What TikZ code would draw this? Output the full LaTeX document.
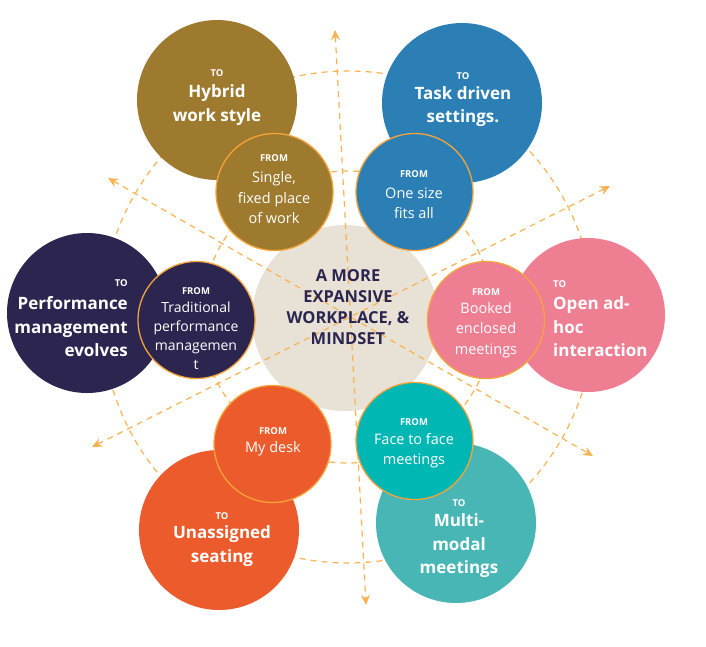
\documentclass[tikz,border=0pt]{standalone}
\usepackage{fontspec}
\setmainfont{Open Sans}
\usepackage{xcolor}
\usetikzlibrary{shapes,arrows,arrows.meta,positioning,calc}

\definecolor{hybridgold}{RGB}{157,122,46}
\definecolor{taskblue}{RGB}{43,127,181}
\definecolor{perfnavy}{RGB}{44,37,80}
\definecolor{openpink}{RGB}{238,127,147}
\definecolor{seatorange}{RGB}{235,91,43}
\definecolor{meetteal}{RGB}{71,182,180}
\definecolor{faceteal}{RGB}{0,183,180}
\definecolor{corebeige}{RGB}{232,226,214}
\definecolor{ringorange}{RGB}{246,164,58}
\definecolor{dashorange}{RGB}{250,178,80}

\begin{document}
\begin{tikzpicture}[x=1pt, y=-1pt,
    tocirc/.style={circle, inner sep=0pt, minimum size=160pt},
    fromcirc/.style={circle, inner sep=0pt, minimum size=117pt, draw=ringorange, line width=1.3pt},
    tohead/.style={text=white, inner sep=0pt, font=\fontsize{9.5}{10}\selectfont\bfseries},
    totext/.style={text=white, inner sep=0pt, align=center, font=\fontsize{17}{23.5}\selectfont\bfseries},
    fromtext/.style={text=white, inner sep=0pt, align=center, font=\fontsize{14.5}{20.5}\selectfont},
    guide/.style={draw=dashorange, line width=1.2pt, dash pattern=on 6pt off 5pt},
    guidearrow/.style={guide, <->, >={Stealth[length=10pt,width=9pt]}}]

    \useasboundingbox (0,0) rectangle (706,646);

    % core circle
    \node[circle, inner sep=0pt, minimum size=186pt, fill=corebeige] (core) at (345,318) {};

    % dashed rings and the three axes
    \coordinate (mid) at (348,317);
    \draw[guide] (mid) circle[radius=246];
    \draw[guide] (mid) circle[radius=146];
    \coordinate (vtop) at (335,30);
    \coordinate (vbot) at (366,605);
    \coordinate (dupl) at (108,178);
    \coordinate (dlor) at (593,456);
    \coordinate (dlol) at (92,447);
    \coordinate (dupr) at (610,186);
    \draw[guidearrow] (vtop) -- (vbot);
    \draw[guidearrow] (dupl) -- (dlor);
    \draw[guidearrow] (dlol) -- (dupr);

    \node[font=\fontsize{16.5}{21}\selectfont\bfseries, text=perfnavy, align=center] (coretext) at (348,307.5)
        {A MORE\\EXPANSIVE\\WORKPLACE, \&\\MINDSET};

    % TO circles
    \node[tocirc, fill=hybridgold] (hybrid) at (217,100) {};
    \node[tocirc, fill=taskblue] (task) at (462,103) {};
    \node[tocirc, fill=perfnavy] (perf) at (87,313) {};
    \node[tocirc, fill=openpink, minimum size=154pt] (open) at (588,315) {};
    \node[tocirc, fill=seatorange] (seat) at (219,530) {};
    \node[tocirc, fill=meetteal] (meet) at (456,523) {};

    % FROM circles
    \node[fromcirc, fill=hybridgold] (single) at (274.5,192) {};
    \node[fromcirc, fill=taskblue] (onesize) at (414.5,192) {};
    \node[fromcirc, fill=perfnavy] (trad) at (196.5,320) {};
    \node[fromcirc, fill=openpink] (booked) at (486,320) {};
    \node[fromcirc, fill=seatorange] (desk) at (272.5,444) {};
    \node[fromcirc, fill=faceteal] (face) at (414.5,441) {};

    % TO labels
    \node[tohead] (hybridto) at (217,73) {TO};
    \node[totext] (hybridtxt) at (217,105) {Hybrid\\work style};
    \node[tohead] (taskto) at (463,76) {TO};
    \node[totext] (tasktxt) at (463,106.5) {Task driven\\settings.};
    \node[tohead, anchor=east] (perfto) at (128,283) {TO};
    \node[totext, anchor=east, align=right] (perftxt) at (128,327) {Performance\\management\\evolves};
    \node[tohead, anchor=west] (opento) at (553,284) {TO};
    \node[totext, anchor=west, align=left] (opentxt) at (553,327) {Open ad-\\hoc\\interaction};
    \node[tohead] (seatto) at (222,516) {TO};
    \node[totext] (seattxt) at (222,546) {Unassigned\\seating};
    \node[tohead] (meetto) at (459,503) {TO};
    \node[totext] (meettxt) at (459,546) {Multi-\\modal\\meetings};

    % FROM labels
    \node[tohead] (singlefrom) at (274,158) {FROM};
    \node[fromtext] (singletxt) at (274,198) {Single,\\fixed place\\of work};
    \node[tohead] (onesizefrom) at (414,174) {FROM};
    \node[fromtext] (onesizetxt) at (414,203) {One size\\fits all};
    \node[tohead] (tradfrom) at (196,291) {FROM};
    \node[fromtext, font=\fontsize{14}{19}\selectfont] (tradtxt) at (196,336) {Traditional\\performance\\managemen\\t};
    \node[tohead] (bookedfrom) at (486,292) {FROM};
    \node[fromtext] (bookedtxt) at (486,330) {Booked\\enclosed\\meetings};
    \node[tohead] (deskfrom) at (273,431) {FROM};
    \node[fromtext] (desktxt) at (273,449) {My desk};
    \node[tohead] (facefrom) at (414,422) {FROM};
    \node[fromtext] (facetxt) at (414,450.5) {Face to face\\meetings};
\end{tikzpicture}
\end{document}
